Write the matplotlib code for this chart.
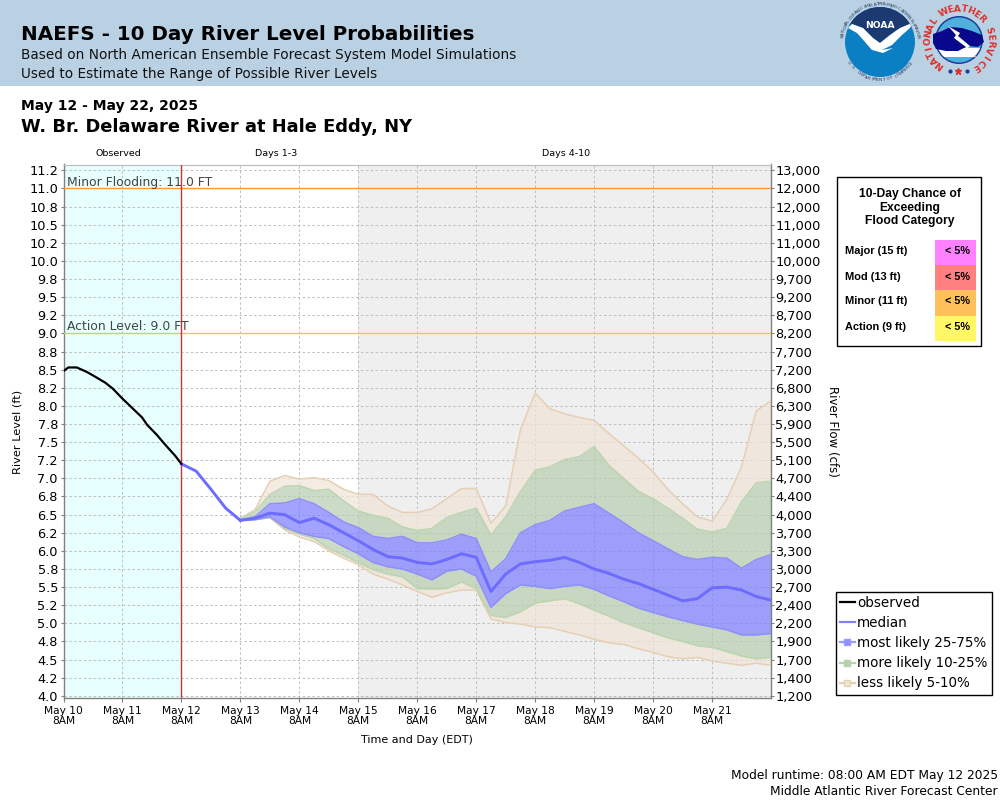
"""NAEFS 10 day river level probabilities, W. Br. Delaware River at Hale Eddy."""
import numpy as np
import matplotlib
matplotlib.use("Agg")
import matplotlib.pyplot as plt
from matplotlib.lines import Line2D
from matplotlib.patches import Circle, Polygon, Rectangle

# hours since May 10 8AM
obs_hours = [0, 2, 5.4, 9.4, 12, 17, 20, 24, 28, 32, 34, 38, 41, 45.5, 48]
obs_level = [8.48, 8.53, 8.53, 8.47, 8.42, 8.32, 8.24, 8.10, 7.97, 7.84, 7.74, 7.60, 7.48, 7.31, 7.20]

# median before the bands open up, May 12 8AM to May 13 2AM
lead_hours = [48, 54, 60, 66]
lead_level = [7.20, 7.10, 6.85, 6.59]

# 6-hourly from May 13 8AM to May 22 8AM
upper_5 = [6.45, 6.57, 6.96, 7.04, 6.99, 7.01, 6.97, 6.85, 6.78, 6.78, 6.62, 6.53, 6.53,
           6.58, 6.72, 6.86, 6.86, 6.38, 6.62, 7.67, 8.18, 7.96, 7.89, 7.84, 7.80, 7.62,
           7.45, 7.28, 7.09, 6.85, 6.65, 6.47, 6.41, 6.71, 7.16, 7.93, 8.07]
upper_10 = [6.45, 6.54, 6.78, 6.89, 6.90, 6.83, 6.85, 6.69, 6.55, 6.49, 6.45, 6.33, 6.28,
            6.31, 6.46, 6.53, 6.59, 6.22, 6.47, 6.82, 7.11, 7.16, 7.26, 7.30, 7.44, 7.18,
            7.00, 6.82, 6.72, 6.59, 6.45, 6.30, 6.26, 6.31, 6.68, 6.94, 6.96]
q75 = [6.43, 6.47, 6.65, 6.66, 6.72, 6.65, 6.53, 6.40, 6.32, 6.20, 6.17, 6.20, 6.11,
       6.11, 6.15, 6.23, 6.17, 5.71, 5.89, 6.25, 6.36, 6.42, 6.55, 6.60, 6.65, 6.52,
       6.39, 6.25, 6.14, 6.03, 5.92, 5.88, 5.91, 5.90, 5.76, 5.88, 5.95]
median = [6.42, 6.45, 6.52, 6.50, 6.39, 6.45, 6.36, 6.25, 6.14, 6.02, 5.92, 5.90, 5.84,
          5.82, 5.88, 5.96, 5.91, 5.44, 5.68, 5.82, 5.85, 5.87, 5.91, 5.84, 5.75, 5.69,
          5.61, 5.55, 5.47, 5.39, 5.31, 5.34, 5.49, 5.50, 5.46, 5.37, 5.32]
q25 = [6.42, 6.43, 6.47, 6.33, 6.25, 6.20, 6.17, 6.06, 5.96, 5.84, 5.78, 5.75, 5.68,
       5.60, 5.72, 5.75, 5.65, 5.22, 5.41, 5.53, 5.51, 5.48, 5.51, 5.53, 5.47, 5.38,
       5.30, 5.21, 5.15, 5.09, 5.04, 4.99, 4.95, 4.91, 4.84, 4.84, 4.86]
lower_10 = [6.42, 6.43, 6.46, 6.31, 6.23, 6.17, 6.03, 5.94, 5.84, 5.74, 5.68, 5.64, 5.48,
            5.47, 5.48, 5.57, 5.48, 5.11, 5.08, 5.16, 5.28, 5.31, 5.34, 5.27, 5.18, 5.10,
            5.01, 4.94, 4.87, 4.80, 4.75, 4.69, 4.67, 4.61, 4.55, 4.51, 4.53]
lower_5 = [6.42, 6.43, 6.46, 6.29, 6.19, 6.13, 6.00, 5.90, 5.81, 5.68, 5.61, 5.53, 5.44,
           5.36, 5.42, 5.46, 5.46, 5.06, 5.01, 4.99, 4.95, 4.94, 4.89, 4.84, 4.78, 4.73,
           4.71, 4.65, 4.60, 4.54, 4.51, 4.53, 4.48, 4.45, 4.42, 4.45, 4.42]

stage_ticks = [11.25, 11.0, 10.75, 10.5, 10.25, 10.0, 9.75, 9.5, 9.25, 9.0, 8.75, 8.5, 8.25, 8.0, 7.75,
               7.5, 7.25, 7.0, 6.75, 6.5, 6.25, 6.0, 5.75, 5.5, 5.25, 5.0, 4.75, 4.5, 4.25, 4.0]
stage_labels = ["11.2", "11.0", "10.8", "10.5", "10.2", "10.0", "9.8", "9.5", "9.2", "9.0", "8.8", "8.5",
                "8.2", "8.0", "7.8", "7.5", "7.2", "7.0", "6.8", "6.5", "6.2", "6.0", "5.8", "5.5",
                "5.2", "5.0", "4.8", "4.5", "4.2", "4.0"]
flow_labels = ["13,000", "12,000", "12,000", "11,000", "11,000", "10,000", "9,700", "9,200", "8,700",
               "8,200", "7,700", "7,200", "6,800", "6,300", "5,900", "5,500", "5,100", "4,700",
               "4,400", "4,000", "3,700", "3,300", "3,000", "2,700", "2,400", "2,200", "1,900",
               "1,700", "1,400", "1,200"]
day_labels = ["May 10", "May 11", "May 12", "May 13", "May 14", "May 15", "May 16", "May 17",
              "May 18", "May 19", "May 20", "May 21"]
categories = ["Major (15 ft)", "Mod (13 ft)", "Minor (11 ft)", "Action (9 ft)"]
chances = ["< 5%", "< 5%", "< 5%", "< 5%"]
category_colors = ["#ff80ff", "#ff8080", "#ffbf59", "#fff766"]

MINOR_STAGE = 11.0
ACTION_STAGE = 9.0

TAN = "#f0e5d7"
GREEN = "#b7cdb0"
BLUE = "#7b7bff"
GREY = "#808080"

plt.rcParams["font.family"] = "DejaVu Sans"

fig = plt.figure(figsize=(10, 8), dpi=100)

# page overlay in pixel coordinates, for the header, logos and table
page = fig.add_axes([0, 0, 1, 1], zorder=0)
page.set_xlim(0, 1000)
page.set_ylim(800, 0)
page.axis("off")
over = fig.add_axes([0, 0, 1, 1], zorder=5)
over.set_xlim(0, 1000)
over.set_ylim(800, 0)
over.axis("off")

page.add_patch(Rectangle((0, 0), 1000, 86, color="#bad1e4", lw=0))
page.text(21, 40, "NAEFS - 10 Day River Level Probabilities", fontsize=14.3, fontweight="bold", va="baseline")
page.text(21, 59, "Based on North American Ensemble Forecast System Model Simulations", fontsize=9.8, color="#111111", va="baseline")
page.text(21, 78, "Used to Estimate the Range of Possible River Levels", fontsize=9.8, color="#111111", va="baseline")
page.text(21, 110, "May 12 - May 22, 2025", fontsize=10, fontweight="bold", va="baseline")
page.text(21, 132, "W. Br. Delaware River at Hale Eddy, NY", fontsize=12.9, fontweight="bold", va="baseline")
page.text(118, 153.5, "Observed", fontsize=6.8, ha="center", va="center")
page.text(276.5, 153.5, "Days 1-3", fontsize=6.8, ha="center", va="center")
page.text(566, 153.5, "Days 4-10", fontsize=6.8, ha="center", va="center")
page.text(417, 740, "Time and Day (EDT)", fontsize=8, ha="center", va="center")
page.text(18, 432, "River Level (ft)", fontsize=8.2, rotation=90, ha="center", va="center")
page.text(832, 431, "River Flow (cfs)", fontsize=8.5, rotation=-90, ha="center", va="center")
page.text(998, 779, "Model runtime: 08:00 AM EDT May 12 2025", fontsize=8.8, ha="right", va="baseline")
page.text(998, 795, "Middle Atlantic River Forecast Center", fontsize=8.8, ha="right", va="baseline")


def arc_text(ax, text, cx, cy, radius, start, end, **kw):
    """Lay text along a circle, angles in degrees, going clockwise."""
    for ch, ang in zip(text, np.linspace(start, end, len(text))):
        rad = np.deg2rad(ang)
        ax.text(cx + radius * np.cos(rad), cy - radius * np.sin(rad), ch, rotation=ang - 90,
                rotation_mode="anchor", ha="center", va="center", **kw)


def arc_text_under(ax, text, cx, cy, radius, start, end, **kw):
    """Same, for the bottom of a seal, reading left to right."""
    for ch, ang in zip(text, np.linspace(start, end, len(text))):
        rad = np.deg2rad(ang)
        ax.text(cx + radius * np.cos(rad), cy - radius * np.sin(rad), ch, rotation=ang + 90,
                rotation_mode="anchor", ha="center", va="center", **kw)


def noaa_logo(ax, cx, cy):
    disc = Circle((cx, cy), 35, color="#0a7fc4", lw=0, zorder=2)
    ax.add_patch(disc)
    navy = Polygon([(845, 27), (852, 24), (863, 28), (873, 38), (880, 43), (890, 35), (900, 28), (913, 25),
                    (913, 0), (845, 0)], color="#1b3a72", lw=0, zorder=3)
    ax.add_patch(navy)
    navy.set_clip_path(disc)
    bird = Polygon([(848, 28), (852, 24), (863, 28), (873, 38), (880, 43), (890, 35), (900, 28), (912, 23),
                    (910, 28), (902, 35), (892, 45), (882, 50), (893, 48), (883, 53), (872, 50), (865, 42),
                    (857, 33)], color="white", lw=0, zorder=4)
    ax.add_patch(bird)
    bird.set_clip_path(disc)
    ax.text(cx, cy - 16.5, "NOAA", color="white", fontsize=6.6, fontweight="bold", ha="center", va="center", zorder=5)
    arc_text(ax, "NATIONAL OCEANIC AND ATMOSPHERIC ADMINISTRATION", cx, cy, 37.8, 172, 8,
             fontsize=3.2, color="#26385a", zorder=5)
    arc_text_under(ax, "U.S. DEPARTMENT OF COMMERCE", cx, cy, 37.8, 214, 326,
                   fontsize=3.2, color="#26385a", zorder=5)


def nws_logo(ax, cx, cy):
    disc = Circle((cx, cy), 24, color="#1c3c9a", lw=0, zorder=2)
    ax.add_patch(disc)
    sky = Circle((cx, cy), 22.5, color="#4fb0dc", lw=0, zorder=2)
    ax.add_patch(sky)
    white = Polygon([(cx - 24, cy + 8), (cx + 24, cy + 8), (cx + 24, cy + 17), (cx - 24, cy + 17)], color="white", lw=0, zorder=3)
    ax.add_patch(white)
    white.set_clip_path(sky)
    cloud = Polygon([(933, 34), (942, 31), (950, 27), (962, 28), (972, 31), (982, 35), (984, 42), (978, 47),
                     (968, 46), (958, 51), (946, 51), (936, 49), (933, 43)], color="#08088c", lw=0, zorder=4)
    ax.add_patch(cloud)
    bolt = Polygon([(948, 26), (960, 33), (958, 36), (970, 46), (968, 48), (977, 58), (964, 50), (966, 47),
                    (954, 38), (956, 35)], color="white", lw=0, zorder=5)
    ax.add_patch(bolt)
    arc_text(ax, "NATIONAL WEATHER SERVICE", cx, cy, 31, 232, -58,
             fontsize=6.6, fontweight="bold", color="#e0302a", zorder=5)
    ax.plot([949.5, 966.5], [71, 71], ls="none", marker="o", ms=2, color="#1c3c9a", zorder=5)
    ax.plot([958], [71], ls="none", marker="*", ms=5, color="#e0302a", zorder=5)


noaa_logo(page, 880, 42)
nws_logo(page, 959, 40)

# main plot, 63.5..771 px across and 164.5..697.5 px down
ax = fig.add_axes([0.0635, 1 - 697.5 / 800, 0.7075, 533 / 800], zorder=2)
ax.set_xlim(0, 288)
ax.set_ylim(3.977, 11.33)
ax.patch.set_alpha(0)
ax.axvspan(0, 48, color="#e8ffff", lw=0, zorder=0)
ax.axvspan(120, 288, color="#efefef", lw=0, zorder=0)
ax.grid(True, color="#bdbdbd", linestyle=(0, (2.5, 2.5)), linewidth=0.7, zorder=1)
ax.set_axisbelow(True)

band_hours = 72 + 6 * np.arange(len(median))
for low, high, color in [
    (upper_10, upper_5, TAN),
    (lower_5, lower_10, TAN),
    (q75, upper_10, GREEN),
    (lower_10, q25, GREEN),
    (q25, q75, BLUE),
]:
    ax.fill_between(band_hours, low, high, color=color, alpha=0.7, lw=0, zorder=2)
for series, edge in [(upper_5, "#e6cfb4"), (lower_5, "#e6cfb4"), (upper_10, "#bcd5b0"),
                     (lower_10, "#bcd5b0"), (q75, "#8f8ffb"), (q25, "#8f8ffb")]:
    ax.plot(band_hours, series, color=edge, lw=1.1, zorder=3)

ax.axhline(MINOR_STAGE, color="#ff9933", lw=1, zorder=3)
ax.axhline(ACTION_STAGE, color="#ffc733", lw=1, zorder=3)
ax.axvline(48, color="#cc3333", lw=1, zorder=3)
ax.text(1.5, MINOR_STAGE + 0.04, "Minor Flooding: 11.0 FT", fontsize=8.9, color="#444444", va="baseline", zorder=6)
ax.text(1.5, ACTION_STAGE + 0.04, "Action Level: 9.0 FT", fontsize=8.9, color="#444444", va="baseline", zorder=6)

ax.plot(lead_hours + [band_hours[0]], lead_level + [median[0]], color="#6c6cff", lw=2.1, zorder=4)
ax.plot(band_hours, median, color="#6c6cff", lw=2.1, zorder=4)
ax.plot(obs_hours, obs_level, color="black", lw=1.6, zorder=5)

ax.set_yticks(stage_ticks)
ax.set_yticklabels(stage_labels, fontsize=9.3)
ax.set_xticks(24 * np.arange(len(day_labels)))
ax.set_xticklabels([f"{d}\n8AM" for d in day_labels], fontsize=7.7, linespacing=1.05)
ax.tick_params(axis="y", length=2.5, width=0.8, color=GREY, pad=1.5)
ax.tick_params(axis="x", length=3, width=0.8, color=GREY, pad=3)
for side in ["left", "bottom", "right"]:
    ax.spines[side].set_color(GREY)
    ax.spines[side].set_linewidth(1)
ax.spines["top"].set_color("#bbbbbb")

flow = ax.twinx()
flow.set_ylim(ax.get_ylim())
flow.set_yticks(stage_ticks)
flow.set_yticklabels(flow_labels, fontsize=9.3)
flow.tick_params(axis="y", length=2.5, width=0.8, color=GREY, pad=0.5)
flow.set_zorder(3)
for side in flow.spines:
    flow.spines[side].set_visible(False)

# flood category table
over.add_patch(Rectangle((836.5, 176.5), 144, 169, fc="white", ec="black", lw=1, zorder=1))
for i, line in enumerate(["10-Day Chance of", "Exceeding", "Flood Category"]):
    over.text(910, 194.5 + 13.2 * i, line, family="Liberation Sans", fontweight="bold", fontsize=8.75,
              ha="center", va="center", zorder=2)
for i, (cat, chance, color) in enumerate(zip(categories, chances, category_colors)):
    over.add_patch(Rectangle((935, 240 + 25.2 * i), 41, 25.2, color=color, lw=0, zorder=2))
    over.text(845, 251.5 + 25 * i, cat, family="Liberation Sans", fontweight="bold", fontsize=7.9, va="center", zorder=3)
    over.text(957.5, 251.5 + 25 * i, chance, family="Liberation Sans", fontweight="bold", fontsize=7.8,
              ha="center", va="center", zorder=3)

handles = [
    Line2D([], [], color="black", lw=1.6),
    Line2D([], [], color="#8080ff", lw=1.6),
    Line2D([], [], color="#9a9aff", lw=1.6, marker="s", ms=4.8, mfc="#8f8fff", mec="#9a9aff"),
    Line2D([], [], color="#b7d2ae", lw=1.6, marker="s", ms=4.8, mfc="#b7d2ae", mec="#b7d2ae"),
    Line2D([], [], color="#e6cfb4", lw=1.6, marker="s", ms=4.8, mfc="#f0e5d7", mec="#e6cfb4"),
]
leg = fig.legend(handles, ["observed", "median", "most likely 25-75%", "more likely 10-25%", "less likely 5-10%"],
                 loc="upper left", bbox_to_anchor=(835.5 / 1000, 1 - 591.5 / 800), fontsize=9.75, frameon=True,
                 fancybox=False, edgecolor="black", framealpha=1, borderaxespad=0, borderpad=0.3,
                 handlelength=1.15, handletextpad=0.15, labelspacing=0.46)
leg.get_frame().set_linewidth(1)
leg.set_zorder(6)

fig.savefig("out.png", dpi=100)
